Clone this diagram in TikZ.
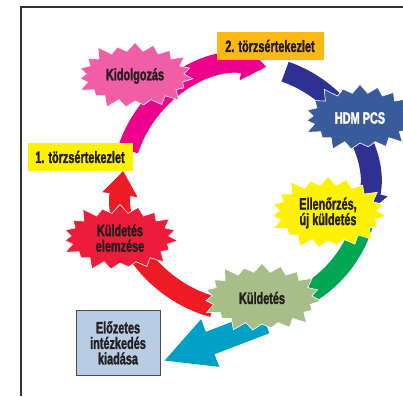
\documentclass[tikz,border=0pt]{standalone}
\usepackage{fontspec}
\setmainfont{Liberation Sans}[FakeStretch=0.66, FakeBold=1.6]
\usetikzlibrary{arrows.meta, shapes.symbols, backgrounds, positioning}

\definecolor{txt}{HTML}{231F20}
\definecolor{magentaarc}{HTML}{EC008C}
\definecolor{navyarc}{HTML}{2E3192}
\definecolor{greenarc}{HTML}{00A651}
\definecolor{redarc}{HTML}{ED1C24}
\definecolor{cyanarc}{HTML}{00A0C6}
\definecolor{pinkburst}{HTML}{F05FA5}
\definecolor{hdmburst}{HTML}{3A5B9B}
\definecolor{yellowburst}{HTML}{FFF200}
\definecolor{redburst}{HTML}{ED1C3B}
\definecolor{olivburst}{HTML}{A8BE88}
\definecolor{orangebox}{HTML}{FDB913}
\definecolor{bluebox}{HTML}{B8CDE3}

\begin{document}
\begin{tikzpicture}
	[x=1pt, y=1pt, font=\fontsize{16.5}{15.5}\selectfont\bfseries,
	burst/.style={starburst, starburst points=19, starburst point height=12pt,
		draw=white, line width=0.6pt, align=center, text=txt, inner sep=0pt},
	box/.style={rectangle, align=center, text=txt, inner sep=0pt},
	ring/.style={line width=21pt, -{Triangle[width=34pt, length=24pt]}},
	frame/.style={draw=black!80, line width=1.2pt}]
	\useasboundingbox (0,0) rectangle (403,396);
	\draw[frame] (21,0) -- (21,389) -- (403,389);
	\coordinate (c) at (245,208);
	%\begin{scope}
	\node (kidolg) [burst, fill=pinkburst, minimum width=122pt, minimum height=74pt] at (135,320) {Kidolgozás};
	\node (tors2) [box, fill=orangebox, minimum width=107pt, minimum height=28pt] at (270,350) {2. törzsértekezlet};
	\node (hdm) [burst, fill=hdmburst, text=white, minimum width=118pt, minimum height=74pt] at (360,278) {HDM PCS};
	\node (tors1) [box, fill=yellowburst, minimum width=105pt, minimum height=28pt] at (80,239) {1. törzsértekezlet};
	\node (ellen) [burst, fill=yellowburst, minimum width=122pt, minimum height=80pt] at (328,183) {Ellenőrzés,\\új küldetés};
	\node (elemz) [burst, fill=redburst, minimum width=122pt, minimum height=74pt] at (120,158) {Küldetés\\elemzése};
	\node (kuld) [burst, fill=olivburst, minimum width=124pt, minimum height=76pt] at (262,98) {Küldetés};
	\node (elozetes) [box, fill=bluebox, draw=black!70, line width=1pt, minimum width=84pt, minimum height=65pt] at (118,53) {Előzetes\\intézkedés\\kiadása};
	\begin{scope}[on background layer]
	\draw[ring, redarc] ([shift={(255:123)}]c) arc[start angle=255, end angle=172, radius=123];
	\draw[ring, magentaarc] ([shift={(162:123)}]c) arc[start angle=162, end angle=80, radius=123];
	\draw[ring, navyarc] ([shift={(71:123)}]c) arc[start angle=71, end angle=-13, radius=123];
	\draw[line width=21pt, greenarc] ([shift={(-16:123)}]c) arc[start angle=-16, end angle=-68, radius=123];
	\draw[cyanarc, line width=24pt, -{Triangle[width=47pt, length=50pt]}] ([shift={(3,-24)}]kuld.center) -- ([shift={(3,15)}]elozetes.south east);
	\end{scope}
\end{tikzpicture}
\end{document}
